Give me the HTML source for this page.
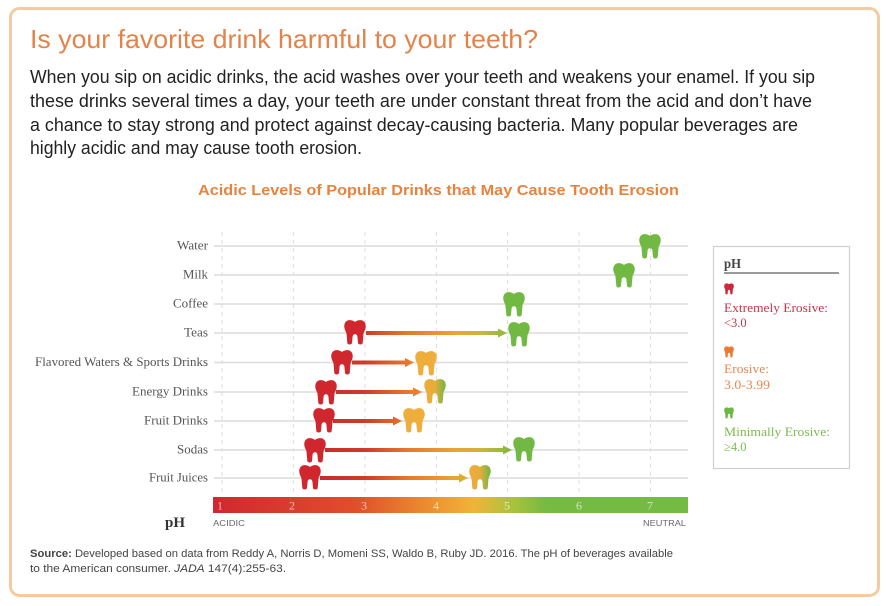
<!DOCTYPE html>
<html><head><meta charset="utf-8">
<style>
html,body{margin:0;padding:0;background:#fff;}
svg{display:block;}
.serif{font-family:"Liberation Serif",serif;}
.sans{font-family:"Liberation Sans",sans-serif;}
</style></head>
<body>
<svg width="890" height="606" viewBox="0 0 890 606" xmlns="http://www.w3.org/2000/svg">
<defs>
  <symbol id="tooth" viewBox="0 0 22 25">
    <path d="M11,2 C9,0.3 6.5,-0.2 4.5,0.3 C1.5,1 0,3.5 0.3,7 C0.6,10 2,11.5 2.5,13.5 L3.3,23 C3.6,25 7.7,25 8,23 L8.6,16.5 C8.9,14.8 10,14.3 11,14.3 C12,14.3 13.1,14.8 13.4,16.5 L14,23 C14.3,25 18.4,25 18.7,23 L19.5,13.5 C20,11.5 21.4,10 21.7,7 C22,3.5 20.5,1 17.5,0.3 C15.5,-0.2 13,0.3 11,2 Z"/>
  </symbol>
  <linearGradient id="bar" gradientUnits="userSpaceOnUse" x1="213" y1="0" x2="688" y2="0">
    <stop offset="0" stop-color="#d12730"/>
    <stop offset="0.3" stop-color="#df4f2b"/>
    <stop offset="0.47" stop-color="#ec9532"/>
    <stop offset="0.55" stop-color="#f0b43a"/>
    <stop offset="0.63" stop-color="#a9c33c"/>
    <stop offset="0.7" stop-color="#76ba44"/>
    <stop offset="1" stop-color="#74ba45"/>
  </linearGradient>
  <linearGradient id="arr" gradientUnits="userSpaceOnUse" x1="300" y1="0" x2="515" y2="0">
    <stop offset="0" stop-color="#c0262d"/>
    <stop offset="0.3" stop-color="#d03a2b"/>
    <stop offset="0.5" stop-color="#e6782d"/>
    <stop offset="0.72" stop-color="#eba434"/>
    <stop offset="0.85" stop-color="#c9b638"/>
    <stop offset="1" stop-color="#78b943"/>
  </linearGradient>
  <linearGradient id="yg" x1="0" y1="0" x2="1" y2="0">
    <stop offset="0" stop-color="#efac3a"/>
    <stop offset="0.5" stop-color="#e6ac3a"/>
    <stop offset="1" stop-color="#6cb845"/>
  </linearGradient>
</defs>

<!-- frame -->
<rect x="10.5" y="8.5" width="868" height="587" rx="9" ry="9" fill="#fff" stroke="#f4caa3" stroke-width="3"/>

<!-- title -->
<text class="sans" x="30" y="48" font-size="26" fill="#e3834a" textLength="508" lengthAdjust="spacingAndGlyphs">Is your favorite drink harmful to your teeth?</text>

<!-- paragraph -->
<g class="sans" font-size="18" fill="#222">
  <text x="30" y="83" textLength="785" lengthAdjust="spacingAndGlyphs">When you sip on acidic drinks, the acid washes over your teeth and weakens your enamel. If you sip</text>
  <text x="30" y="107" textLength="782" lengthAdjust="spacingAndGlyphs">these drinks several times a day, your teeth are under constant threat from the acid and don’t have</text>
  <text x="30" y="131" textLength="768" lengthAdjust="spacingAndGlyphs">a chance to stay strong and protect against decay-causing bacteria. Many popular beverages are</text>
  <text x="30" y="154" textLength="332" lengthAdjust="spacingAndGlyphs">highly acidic and may cause tooth erosion.</text>
</g>

<!-- chart title -->
<text class="sans" x="198" y="195" font-size="15" font-weight="bold" fill="#e8823f" textLength="481" lengthAdjust="spacingAndGlyphs">Acidic Levels of Popular Drinks that May Cause Tooth Erosion</text>

<!-- vertical dashed lines -->
<g stroke="#e2e2e2" stroke-width="1.2" stroke-dasharray="4,4">
  <line x1="222" y1="232" x2="222" y2="496"/>
  <line x1="293.4" y1="232" x2="293.4" y2="496"/>
  <line x1="365" y1="232" x2="365" y2="496"/>
  <line x1="436.5" y1="232" x2="436.5" y2="496"/>
  <line x1="507.5" y1="232" x2="507.5" y2="496"/>
  <line x1="579" y1="232" x2="579" y2="496"/>
  <line x1="650.5" y1="232" x2="650.5" y2="496"/>
</g>

<!-- horizontal grid lines -->
<g stroke="#dcdcdc" stroke-width="1.6">
  <line x1="214" y1="246" x2="688" y2="246"/>
  <line x1="214" y1="275" x2="688" y2="275"/>
  <line x1="214" y1="304" x2="688" y2="304"/>
  <line x1="214" y1="333" x2="688" y2="333"/>
  <line x1="214" y1="362.5" x2="688" y2="362.5"/>
  <line x1="214" y1="392" x2="688" y2="392"/>
  <line x1="214" y1="421" x2="688" y2="421"/>
  <line x1="214" y1="450" x2="688" y2="450"/>
  <line x1="214" y1="478" x2="688" y2="478"/>
</g>

<!-- row labels -->
<g class="serif" font-size="13" fill="#555">
  <text x="177" y="249.5" textLength="31" lengthAdjust="spacingAndGlyphs">Water</text>
  <text x="183" y="278.5" textLength="25" lengthAdjust="spacingAndGlyphs">Milk</text>
  <text x="173" y="307.5" textLength="35" lengthAdjust="spacingAndGlyphs">Coffee</text>
  <text x="184" y="336.5" textLength="24" lengthAdjust="spacingAndGlyphs">Teas</text>
  <text x="35" y="366" textLength="173" lengthAdjust="spacingAndGlyphs">Flavored Waters &amp; Sports Drinks</text>
  <text x="132" y="395.5" textLength="76" lengthAdjust="spacingAndGlyphs">Energy Drinks</text>
  <text x="144" y="424.5" textLength="64" lengthAdjust="spacingAndGlyphs">Fruit Drinks</text>
  <text x="177" y="453.5" textLength="31" lengthAdjust="spacingAndGlyphs">Sodas</text>
  <text x="149" y="481.5" textLength="59" lengthAdjust="spacingAndGlyphs">Fruit Juices</text>
</g>

<!-- arrows -->
<g fill="url(#arr)">
  <rect x="366" y="331" width="135" height="4"/><polygon points="498,328.5 507,333 498,337.5"/>
  <rect x="352" y="360.5" width="56" height="4"/><polygon points="405,358 414,362.5 405,367"/>
  <rect x="336" y="390" width="80" height="4"/><polygon points="413,387.5 422,392 413,396.5"/>
  <rect x="333" y="419" width="63" height="4"/><polygon points="393,416.5 402,421 393,425.5"/>
  <rect x="325" y="448" width="181" height="4"/><polygon points="503,445.5 512,450 503,454.5"/>
  <rect x="320" y="476" width="142" height="4"/><polygon points="459,473.5 468,478 459,482.5"/>
</g>

<!-- teeth -->
<g>
  <use href="#tooth" x="639" y="234" width="22" height="25" fill="#72b944"/>
  <use href="#tooth" x="613" y="263" width="22" height="25" fill="#72b944"/>
  <use href="#tooth" x="503" y="292" width="22" height="25" fill="#72b944"/>
  <use href="#tooth" x="344" y="320" width="22" height="25" fill="#d0272e"/>
  <use href="#tooth" x="508" y="322" width="22" height="25" fill="#72b944"/>
  <use href="#tooth" x="331" y="350" width="22" height="25" fill="#d0272e"/>
  <use href="#tooth" x="415" y="351" width="22" height="25" fill="#efae3b"/>
  <use href="#tooth" x="315" y="380" width="22" height="25" fill="#d0272e"/>
  <use href="#tooth" x="424" y="379" width="22" height="25" fill="url(#yg)"/>
  <use href="#tooth" x="313" y="408" width="22" height="25" fill="#d0272e"/>
  <use href="#tooth" x="403" y="408" width="22" height="25" fill="#efae3b"/>
  <use href="#tooth" x="304" y="438" width="22" height="25" fill="#d0272e"/>
  <use href="#tooth" x="513" y="437" width="22" height="25" fill="#72b944"/>
  <use href="#tooth" x="299" y="465" width="22" height="25" fill="#d0272e"/>
  <use href="#tooth" x="469" y="465" width="22" height="25" fill="url(#yg)"/>
</g>

<!-- pH bar -->
<rect x="213" y="497" width="475" height="16" fill="url(#bar)"/>
<g class="serif" font-size="12" fill="#fff" fill-opacity="0.65" text-anchor="middle">
  <text x="220" y="509.5">1</text>
  <text x="292" y="509.5">2</text>
  <text x="364" y="509.5">3</text>
  <text x="436" y="509.5">4</text>
  <text x="507" y="509.5">5</text>
  <text x="579" y="509.5">6</text>
  <text x="650" y="509.5">7</text>
</g>
<text class="serif" x="165" y="527" font-size="15" font-weight="bold" fill="#333" textLength="20" lengthAdjust="spacingAndGlyphs">pH</text>
<text class="sans" x="213" y="526" font-size="8.5" fill="#666" textLength="32" lengthAdjust="spacingAndGlyphs">ACIDIC</text>
<text class="sans" x="643" y="526" font-size="8.5" fill="#666" textLength="43" lengthAdjust="spacingAndGlyphs">NEUTRAL</text>

<!-- legend -->
<rect x="713.5" y="246.5" width="136" height="222" fill="#fff" stroke="#cfcfcf" stroke-width="1.2"/>
<text class="serif" x="724" y="268" font-size="14" font-weight="bold" fill="#444" textLength="17" lengthAdjust="spacingAndGlyphs">pH</text>
<line x1="724" y1="273" x2="839" y2="273" stroke="#9a9a9a" stroke-width="2"/>
<use href="#tooth" x="724" y="283" width="10" height="12" fill="#cc2a3c"/>
<g class="serif" font-size="12.5">
  <text x="724" y="312" fill="#c8344c" textLength="104" lengthAdjust="spacingAndGlyphs">Extremely Erosive:</text>
  <text x="724" y="327" fill="#c8344c">&lt;3.0</text>
  <text x="724" y="373" fill="#e8874f" textLength="45" lengthAdjust="spacingAndGlyphs">Erosive:</text>
  <text x="724" y="389" fill="#e8874f" textLength="46" lengthAdjust="spacingAndGlyphs">3.0-3.99</text>
  <text x="724" y="436" fill="#7dbb52" textLength="106" lengthAdjust="spacingAndGlyphs">Minimally Erosive:</text>
  <text x="724" y="451" fill="#7dbb52">≥4.0</text>
</g>
<use href="#tooth" x="724" y="346" width="10" height="12" fill="#ee7a32"/>
<use href="#tooth" x="724" y="407" width="10" height="12" fill="#6fb745"/>

<!-- source -->
<g class="sans" font-size="11" fill="#444">
  <text x="30" y="557" textLength="643" lengthAdjust="spacingAndGlyphs"><tspan font-weight="bold">Source:</tspan> Developed based on data from Reddy A, Norris D, Momeni SS, Waldo B, Ruby JD. 2016. The pH of beverages available</text>
  <text x="30" y="572" textLength="256" lengthAdjust="spacingAndGlyphs">to the American consumer. <tspan font-style="italic">JADA</tspan> 147(4):255-63.</text>
</g>
</svg>
</body></html>
